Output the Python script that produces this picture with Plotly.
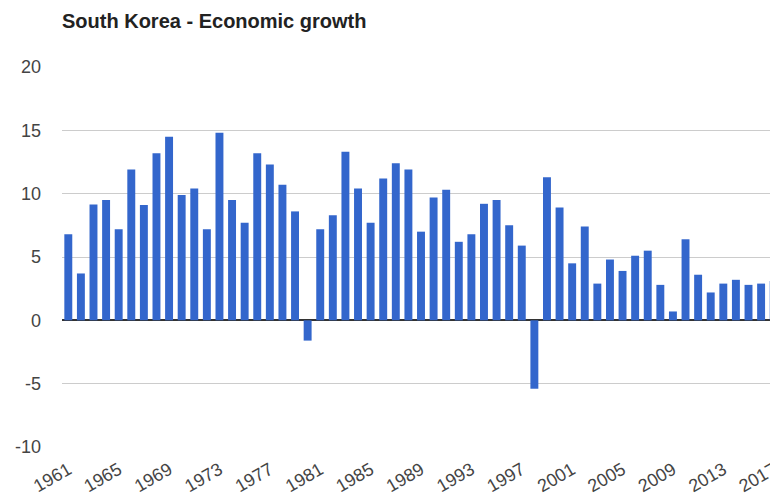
import plotly.graph_objects as go

years = list(range(1961, 2018))
growth = [6.8, 3.7, 9.15, 9.5, 7.2, 11.9, 9.1, 13.2, 14.5, 9.9,
          10.4, 7.2, 14.8, 9.5, 7.7, 13.2, 12.3, 10.7, 8.6, -1.6,
          7.2, 8.3, 13.3, 10.4, 7.7, 11.2, 12.4, 11.9, 7.0, 9.7,
          10.3, 6.2, 6.8, 9.2, 9.5, 7.5, 5.9, -5.4, 11.3, 8.9,
          4.5, 7.4, 2.9, 4.8, 3.9, 5.1, 5.5, 2.8, 0.7, 6.4,
          3.6, 2.2, 2.9, 3.2, 2.8, 2.9, 3.1]
tick_years = list(range(1961, 2018, 4))
y_ticks = [-10, -5, 0, 5, 10, 15, 20]
y_tick_labels = ["-10", "-5", "0", "5", "10", "15", "20"]
title_text = "South Korea - Economic growth"

FONT = "Arial, Liberation Sans, sans-serif"

fig = go.Figure(go.Bar(x=years, y=growth, marker=dict(color="#3366cc", line=dict(width=0))))

fig.update_layout(
    width=780, height=500,
    margin=dict(l=62, r=0, t=67, b=53, autoexpand=False),
    paper_bgcolor="white", plot_bgcolor="white",
    bargap=0.37,
    showlegend=False,
    font=dict(family=FONT, color="#444"),
    title=dict(text="<b>" + title_text + "</b>", x=0, xref="paper", xanchor="left",
               y=1 - 21 / 500, yref="container", yanchor="middle",
               font=dict(family=FONT, size=20, color="#222")),
)
fig.update_xaxes(
    range=[1960.5, 2017.5], tickmode="array", tickvals=tick_years,
    ticktext=[str(y) for y in tick_years], tickangle=-30,
    tickfont=dict(size=18, color="#444"), showgrid=False, zeroline=False,
    showline=False, ticks="", ticklabelstandoff=8, automargin=False,
    ticklabeloverflow="allow",
)
fig.update_yaxes(
    range=[-10, 20], tickmode="array", tickvals=y_ticks, ticktext=y_tick_labels,
    tickfont=dict(size=18, color="#444"), showgrid=True, gridcolor="#cccccc",
    gridwidth=1, zeroline=True, zerolinecolor="#333333", zerolinewidth=1.5,
    showline=False, ticks="", ticklabelstandoff=20, automargin=False,
)

fig.write_html("out.html", post_script="document.body.style.overflow='hidden';document.documentElement.style.overflow='hidden';document.body.style.margin='0';")
